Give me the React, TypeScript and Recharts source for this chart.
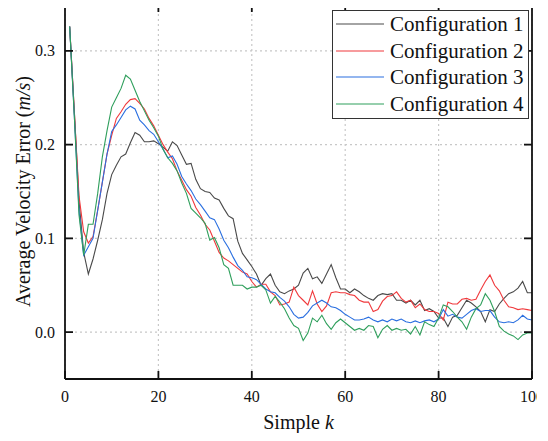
import { LineChart, Line, XAxis, YAxis, CartesianGrid, Legend, Label, ReferenceLine } from "recharts";

const steps = Array.from({ length: 100 }, (_, i) => i + 1);

const config1 = [
  0.326, 0.235, 0.14, 0.085, 0.062, 0.078, 0.098, 0.12, 0.148, 0.168,
  0.178, 0.187, 0.19, 0.202, 0.213, 0.21, 0.203, 0.203, 0.204, 0.201,
  0.197, 0.193, 0.203, 0.199, 0.189, 0.179, 0.18, 0.163, 0.153, 0.15,
  0.149, 0.143, 0.141, 0.132, 0.124, 0.121, 0.097, 0.084, 0.077, 0.07,
  0.062, 0.05, 0.057, 0.062, 0.05, 0.043, 0.041, 0.044, 0.046, 0.05,
  0.063, 0.068, 0.057, 0.059, 0.052, 0.062, 0.072, 0.058, 0.046, 0.046,
  0.042, 0.046, 0.043, 0.039, 0.036, 0.034, 0.039, 0.041, 0.04, 0.041,
  0.034, 0.034, 0.031, 0.034, 0.029, 0.034, 0.023, 0.025, 0.022, 0.015,
  0.015, 0.006, 0.016, 0.018, 0.026, 0.034, 0.031, 0.027, 0.022, 0.011,
  0.024, 0.022, 0.03, 0.036, 0.041, 0.043, 0.047, 0.054, 0.042, 0.042,
];

const config2 = [
  0.326, 0.235, 0.145, 0.107, 0.095, 0.102, 0.13, 0.16, 0.19, 0.21,
  0.228, 0.235, 0.243, 0.248, 0.249, 0.244, 0.238, 0.228, 0.22, 0.21,
  0.2, 0.192, 0.185, 0.172, 0.162, 0.152, 0.145, 0.133, 0.125, 0.115,
  0.109, 0.097, 0.085, 0.079, 0.076, 0.072, 0.068, 0.064, 0.062, 0.054,
  0.048, 0.051, 0.051, 0.043, 0.039, 0.029, 0.03, 0.032, 0.048, 0.039,
  0.034, 0.029, 0.044, 0.03, 0.022, 0.028, 0.042, 0.043, 0.042, 0.042,
  0.04, 0.039, 0.034, 0.032, 0.032, 0.022, 0.024, 0.033, 0.038, 0.039,
  0.043, 0.036, 0.032, 0.034, 0.026, 0.03, 0.024, 0.022, 0.022, 0.02,
  0.013, 0.032, 0.03, 0.03, 0.035, 0.036, 0.034, 0.035, 0.045, 0.054,
  0.061, 0.05, 0.044, 0.034, 0.027, 0.026, 0.024, 0.025, 0.024, 0.023,
];

const config3 = [
  0.326, 0.23, 0.13, 0.082, 0.091, 0.1, 0.13, 0.16, 0.19, 0.214,
  0.221, 0.229, 0.237, 0.241, 0.238, 0.226, 0.221, 0.215, 0.211, 0.203,
  0.195, 0.186, 0.188, 0.179, 0.166, 0.158, 0.151, 0.142, 0.136, 0.129,
  0.122, 0.12, 0.11, 0.098, 0.09, 0.08, 0.071, 0.066, 0.059, 0.058,
  0.056, 0.051, 0.046, 0.043, 0.042, 0.037, 0.033, 0.027, 0.019, 0.015,
  0.016, 0.021, 0.028, 0.031, 0.034, 0.031, 0.027, 0.026, 0.023, 0.019,
  0.016, 0.013, 0.013, 0.014, 0.016, 0.013, 0.011, 0.013, 0.011, 0.014,
  0.012, 0.014, 0.011, 0.01, 0.012, 0.01, 0.012, 0.013, 0.011, 0.014,
  0.024, 0.017, 0.019, 0.016, 0.015, 0.019, 0.023, 0.025, 0.022, 0.023,
  0.023, 0.016, 0.011, 0.01, 0.011, 0.01, 0.013, 0.018, 0.014, 0.013,
];

const config4 = [
  0.326, 0.23, 0.125, 0.082, 0.115, 0.115, 0.148, 0.187, 0.215, 0.24,
  0.25, 0.26, 0.274, 0.27, 0.258, 0.246, 0.236, 0.226, 0.218, 0.209,
  0.195, 0.186, 0.18, 0.172, 0.159, 0.148, 0.132, 0.127, 0.122, 0.116,
  0.098, 0.101, 0.09, 0.072, 0.068, 0.05, 0.05, 0.05, 0.046, 0.048,
  0.048, 0.05, 0.045, 0.031, 0.038, 0.032, 0.025, 0.015, 0.007, 0.004,
  -0.009, -0.001, 0.015, 0.011, 0.018, 0.009, 0.003, 0.01, 0.014, 0.01,
  0.006, 0.002, 0.004, 0.002, 0.007, 0.006, -0.006, 0.003, 0.007, 0.002,
  0.004, 0.002, 0.003, -0.002, 0.006, -0.003, 0.011, 0.008, 0.006, 0.015,
  0.029, 0.027, 0.022, 0.016, 0.011, 0.003, 0.016, 0.025, 0.029, 0.041,
  0.034, 0.022, 0.006, 0.001, -0.002, -0.004, -0.008, -0.003, -0.001, -0.001,
];

const xTicks = [0, 20, 40, 60, 80, 100];
const yTicks = [0, 0.1, 0.2, 0.3];
const xDomain = [0, 100];
const yDomain = [-0.05, 0.35];

const series = [
  { key: "c1", name: "Configuration 1", color: "#4a4a4a", values: config1 },
  { key: "c2", name: "Configuration 2", color: "#f0393c", values: config2 },
  { key: "c3", name: "Configuration 3", color: "#2a6fe0", values: config3 },
  { key: "c4", name: "Configuration 4", color: "#2f9f5c", values: config4 },
];

const data = steps.map((k, i) => {
  const row: Record<string, number> = { k };
  series.forEach((s) => (row[s.key] = s.values[i]));
  return row;
});

const FONT = "'Liberation Serif', 'Times New Roman', serif";
const INK = "#111";
const FRAME_W = 1.8;
const TICK = 8;

// inward ticks + labels on the bottom and left axes
const BottomTick = ({ x, y, payload }: any) => (
  <g>
    <line x1={x} y1={y} x2={x} y2={y - TICK} stroke={INK} strokeWidth={FRAME_W} />
    <text x={x} y={y + 22.5} textAnchor="middle" fontSize={16} fontFamily={FONT} fill="#111">
      {payload.value}
    </text>
  </g>
);

const LeftTick = ({ x, y, payload }: any) => (
  <g>
    <line x1={x} y1={y} x2={x + TICK} y2={y} stroke={INK} strokeWidth={FRAME_W} />
    <text x={x - 10} y={y + 5.5} textAnchor="end" fontSize={16} fontFamily={FONT} fill="#111">
      {payload.value.toFixed(1)}
    </text>
  </g>
);

// mirrored ticks on the top and right edges, drawn at the far end of reference lines
const TopTickShape = ({ x1, y1, y2 }: any) => {
  const top = Math.min(y1, y2);
  return <line x1={x1} y1={top} x2={x1} y2={top + TICK} stroke={INK} strokeWidth={FRAME_W} />;
};

const RightTickShape = ({ x1, x2, y1 }: any) => {
  const right = Math.max(x1, x2);
  return <line x1={right} y1={y1} x2={right - TICK} y2={y1} stroke={INK} strokeWidth={FRAME_W} />;
};

const LegendBox = ({ payload }: any) => (
  <div
    style={{
      width: 193,
      boxSizing: "content-box",
      border: "1px solid #333",
      background: "#fff",
      padding: "0 0 1px 2px",
      fontFamily: FONT,
      fontSize: 21,
      lineHeight: "26.5px",
      color: "#111",
      whiteSpace: "nowrap",
      textAlign: "left",
    }}
  >
    {(payload || []).map((p: any) => (
      <div key={p.value} style={{ display: "flex", alignItems: "center", height: 26.5 }}>
        <svg width={50} height={4} style={{ marginRight: 5, flex: "none" }}>
          <line x1={1} y1={2} x2={49} y2={2} stroke={p.color} strokeWidth={1.2} />
        </svg>
        <span>{p.value}</span>
      </div>
    ))}
  </div>
);

const XTitle = ({ viewBox }: any) => (
  <text x={viewBox.x + viewBox.width / 2} y={viewBox.y + 50} textAnchor="middle" fontSize={20} fontFamily={FONT} fill="#111">
    Simple <tspan fontStyle="italic">k</tspan>
  </text>
);

const YTitle = ({ viewBox }: any) => {
  const cx = 30;
  const cy = viewBox.y + viewBox.height / 2;
  return (
    <text x={cx} y={cy} transform={`rotate(-90 ${cx} ${cy})`} textAnchor="middle" fontSize={20} fontFamily={FONT} fill="#111">
      Average Velocity Error (<tspan fontStyle="italic">m/s</tspan>)
    </text>
  );
};

export default function App() {
  return (
    <div style={{ margin: -8, width: 537, height: 441, overflow: "hidden", background: "#fff" }}>
      <LineChart
        width={537}
        height={441}
        data={data}
        margin={{ top: 4, right: 5, bottom: 32, left: 5 }}
        style={{ fontFamily: FONT }}
      >
        <CartesianGrid stroke="#c8c8c8" strokeDasharray="2 3" strokeWidth={1.2} />
        <XAxis
          dataKey="k"
          type="number"
          domain={xDomain}
          ticks={xTicks}
          allowDataOverflow
          height={30}
          axisLine={{ stroke: INK, strokeWidth: FRAME_W }}
          tickLine={false}
          tickSize={0}
          tickMargin={0}
          tick={BottomTick}
          interval={0}
        >
          <Label content={XTitle} />
        </XAxis>
        <YAxis
          type="number"
          domain={yDomain}
          ticks={yTicks}
          allowDataOverflow
          width={60}
          axisLine={{ stroke: INK, strokeWidth: FRAME_W }}
          tickLine={false}
          tickSize={0}
          tickMargin={0}
          tick={LeftTick}
          interval={0}
        >
          <Label content={YTitle} />
        </YAxis>
        {series.map((s) => (
          <Line key={s.key} dataKey={s.key} name={s.name} type="linear" stroke={s.color} strokeWidth={1.1} dot={false} isAnimationActive={false} />
        ))}
        <ReferenceLine y={yDomain[1]} stroke={INK} strokeWidth={FRAME_W} ifOverflow="visible" />
        <ReferenceLine x={xDomain[1]} stroke={INK} strokeWidth={FRAME_W} ifOverflow="visible" />
        {xTicks.slice(1, -1).map((t) => (
          <ReferenceLine key={`tx${t}`} x={t} shape={TopTickShape} />
        ))}
        {yTicks.map((t) => (
          <ReferenceLine key={`ty${t}`} y={t} shape={RightTickShape} />
        ))}
        <Legend
          layout="vertical"
          align="center"
          verticalAlign="middle"
          content={LegendBox}
          wrapperStyle={{ position: "absolute", top: 10, left: 332, width: "auto" }}
        />
      </LineChart>
    </div>
  );
}
